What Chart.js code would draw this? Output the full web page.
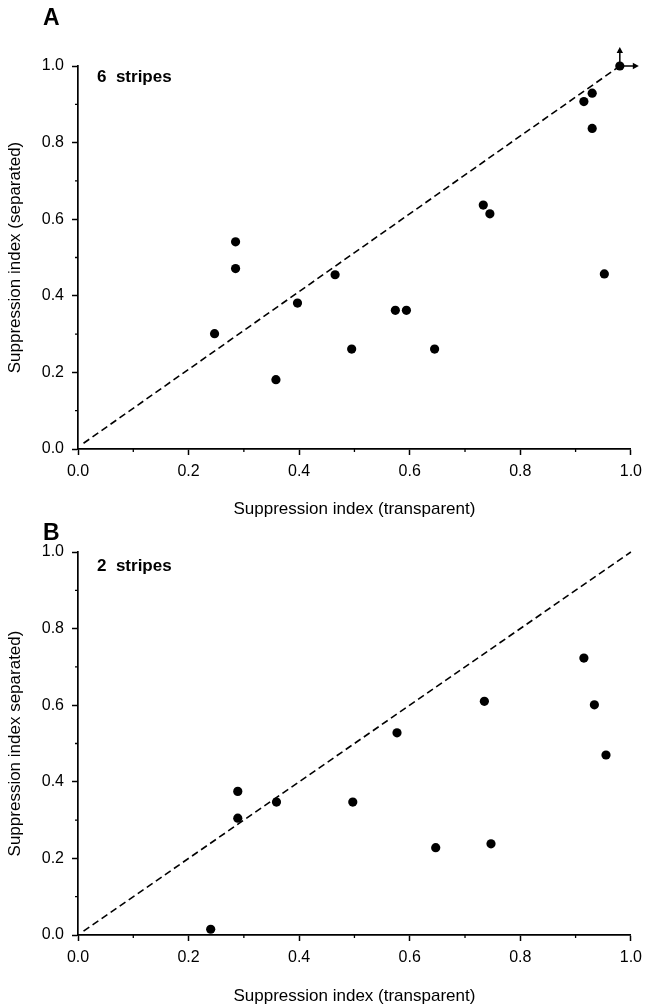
<!DOCTYPE html>
<html><head><meta charset="utf-8">
<script src="https://cdn.jsdelivr.net/npm/chart.js@4.4.1/dist/chart.umd.min.js"></script>
<style>
html,body{margin:0;padding:0;background:#fff;}
body{width:649px;height:1008px;position:relative;overflow:hidden;}
.wrap{position:absolute;left:0;width:649px;}
#w1{top:0;height:520px;}
#w2{top:515px;height:493px;}
canvas{display:block;}
</style></head><body>
<div class="wrap" id="w1"><canvas id="c1" width="649" height="520"></canvas></div>
<div class="wrap" id="w2"><canvas id="c2" width="649" height="493"></canvas></div>
<script>
// ---- data ----
const panelLetters = ['A', 'B'];
const panelLabels = ['6  stripes', '2  stripes'];
const xAxisTitle = 'Suppression index (transparent)';
const yAxisTitles = ['Suppression index (separated)', 'Suppression index separated)'];
const tickLabels = ['0.0', '0.2', '0.4', '0.6', '0.8', '1.0'];

// Panel A: 6 stripes
const sixX = [0.98, 0.915, 0.93, 0.93, 0.733, 0.745, 0.952, 0.285, 0.285, 0.465, 0.397, 0.574, 0.594, 0.247, 0.495, 0.645, 0.358];
const sixY = [1.0, 0.907, 0.929, 0.837, 0.637, 0.614, 0.457, 0.541, 0.471, 0.455, 0.381, 0.362, 0.362, 0.301, 0.261, 0.261, 0.181];
const sixDiagX = [0.01, 0.98];
const sixDiagY = [0.015, 1.0];
const sixArrowPoints = [0];

// Panel B: 2 stripes
const twoX = [0.24, 0.289, 0.289, 0.359, 0.497, 0.577, 0.647, 0.747, 0.735, 0.915, 0.934, 0.955];
const twoY = [0.015, 0.375, 0.305, 0.347, 0.347, 0.528, 0.228, 0.238, 0.61, 0.723, 0.601, 0.47];
const twoDiagX = [0.01, 1.0];
const twoDiagY = [0.01, 1.0];
const twoArrowPoints = [];

// ---- drawing ----
const FONT = "'Liberation Sans', Arial, Helvetica, sans-serif";
Chart.defaults.font.family = FONT;
Chart.defaults.color = '#000';

function isMajor(v) { return Math.round(v * 10) % 2 === 0; }

function makeChart(id, xs, ys, dx, dy, letter, label, yTitle, arrows, g) {
  const pts = xs.map((x, i) => ({x: x, y: ys[i]}));
  const diag = dx.map((x, i) => ({x: x, y: dy[i]}));
  const decor = {
    id: 'decor',
    afterDraw(chart) {
      const ctx = chart.ctx;
      const xs_ = chart.scales.x, ys_ = chart.scales.y;
      const ca = chart.chartArea;
      ctx.save();
      ctx.fillStyle = '#000';
      ctx.strokeStyle = '#000';
      // panel letter
      ctx.font = 'bold 23px ' + FONT;
      ctx.textBaseline = 'alphabetic';
      ctx.textAlign = 'left';
      ctx.fillText(letter, 43, g.letterBase);
      // panel label
      ctx.font = 'bold 17px ' + FONT;
      ctx.fillText(label, 97, g.labelBase);
      // minor ticks
      ctx.lineWidth = 1.3;
      ctx.beginPath();
      for (let k = 1; k < 10; k += 2) {
        const v = k / 10;
        const px = xs_.getPixelForValue(v);
        ctx.moveTo(px, ca.bottom); ctx.lineTo(px, ca.bottom + 3);
        const py = ys_.getPixelForValue(v);
        ctx.moveTo(ca.left, py); ctx.lineTo(ca.left - 3, py);
      }
      ctx.stroke();
      // off-scale arrows
      ctx.lineWidth = 1.5;
      arrows.forEach(i => {
        const px = xs_.getPixelForValue(xs[i]);
        const py = ys_.getPixelForValue(ys[i]);
        const L = 17, h = 4;
        ctx.beginPath();
        ctx.moveTo(px, py); ctx.lineTo(px, py - L);
        ctx.moveTo(px, py); ctx.lineTo(px + L, py);
        ctx.stroke();
        ctx.beginPath();
        ctx.moveTo(px, py - L - 2); ctx.lineTo(px - h * 0.8, py - L + h); ctx.lineTo(px + h * 0.8, py - L + h); ctx.closePath();
        ctx.moveTo(px + L + 2, py); ctx.lineTo(px + L - h, py - h * 0.8); ctx.lineTo(px + L - h, py + h * 0.8); ctx.closePath();
        ctx.fill();
      });
      ctx.restore();
    }
  };
  const axisCommon = (title, fit, tpad, titlePad) => ({
    type: 'linear', min: 0, max: 1,
    ticks: {
      stepSize: 0.1, autoSkip: false, maxRotation: 0, padding: tpad,
      font: {size: 16, family: FONT}, color: '#000',
      callback: v => isMajor(v) ? tickLabels[Math.round(v * 5)] : ''
    },
    grid: {
      drawOnChartArea: false, drawTicks: true, tickLength: 6, tickWidth: 1.5,
      tickColor: c => (c.tick && isMajor(c.tick.value)) ? '#000' : 'rgba(0,0,0,0)'
    },
    border: {display: true, color: '#000', width: 1.7},
    title: {display: true, text: title, color: '#000', font: {size: 17, family: FONT}, padding: titlePad},
    afterFit: fit
  });
  return new Chart(document.getElementById(id), {
    data: {
      datasets: [
        {type: 'scatter', data: pts, backgroundColor: '#000', borderWidth: 0, pointRadius: 4.6, clip: false, order: 0},
        {type: 'line', data: diag, borderColor: '#000', borderWidth: 1.6, borderDash: [7, 4], pointRadius: 0, fill: false, clip: false, order: 1}
      ]
    },
    options: {
      responsive: false, animation: false, devicePixelRatio: 1,
      layout: {padding: {top: g.top, right: 9, left: 0, bottom: 0}},
      plugins: {legend: {display: false}, tooltip: {enabled: false}},
      scales: {
        x: Object.assign(axisCommon(xAxisTitle, s => { s.height = g.xh; }, 7, {top: 0, bottom: g.xtp}), {position: 'bottom'}),
        y: Object.assign(axisCommon(yTitle, s => { s.width = 78; }, 8, {top: 5, bottom: 0}), {position: 'left'})
      }
    },
    plugins: [decor]
  });
}

makeChart('c1', sixX, sixY, sixDiagX, sixDiagY, panelLetters[0], panelLabels[0], yAxisTitles[0], sixArrowPoints,
  {top: 66, xh: 71, xtp: 0, letterBase: 25, labelBase: 82});
makeChart('c2', twoX, twoY, twoDiagX, twoDiagY, panelLetters[1], panelLabels[1], yAxisTitles[1], twoArrowPoints,
  {top: 37, xh: 73, xtp: 1, letterBase: 25, labelBase: 56});
</script>
</body></html>
